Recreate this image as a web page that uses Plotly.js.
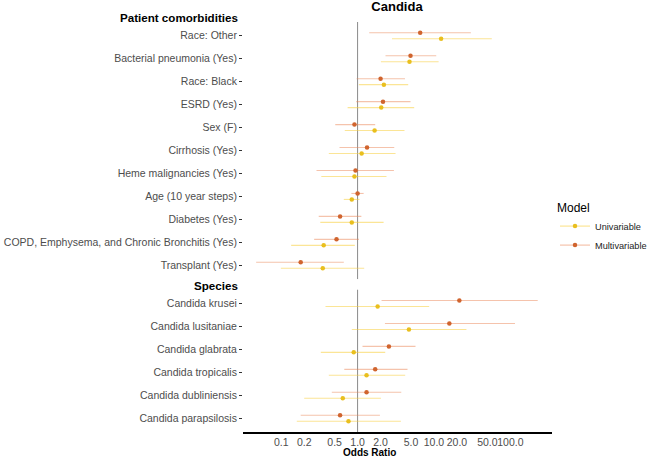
<!DOCTYPE html>
<html>
<head>
<meta charset="utf-8">
<script src="https://cdn.plot.ly/plotly-3.0.1.min.js"></script>
<style>
  html, body { margin: 0; padding: 0; background: #fff; }
  #chart { width: 650px; height: 459px; }
</style>
</head>
<body>
<div id="chart"></div>
<script>
// Patient comorbidities, listed top to bottom
const comorbLabels = [
  "Race: Other", "Bacterial pneumonia (Yes)", "Race: Black", "ESRD (Yes)", "Sex (F)",
  "Cirrhosis (Yes)", "Heme malignancies (Yes)", "Age (10 year steps)", "Diabetes (Yes)",
  "COPD, Emphysema, and Chronic Bronchitis (Yes)", "Transplant (Yes)"
];
const comorbMultiOR = [6.6, 4.93, 2.0, 2.15, 0.91, 1.33, 0.94, 1.0, 0.59, 0.53, 0.18];
const comorbMultiLo = [1.42, 2.32, 0.97, 0.96, 0.51, 0.58, 0.29, 0.83, 0.31, 0.27, 0.047];
const comorbMultiHi = [30.4, 10.7, 4.17, 4.93, 1.70, 3.02, 2.99, 1.2, 1.12, 1.04, 0.66];
const comorbUniOR = [12.4, 4.78, 2.21, 2.04, 1.67, 1.13, 0.91, 0.84, 0.84, 0.36, 0.35];
const comorbUniLo = [2.82, 2.02, 1.04, 0.74, 0.68, 0.42, 0.335, 0.66, 0.325, 0.135, 0.099];
const comorbUniHi = [57.1, 11.5, 4.6, 5.51, 4.11, 3.14, 2.39, 1.06, 2.19, 0.92, 1.22];

// Species, listed top to bottom
const speciesLabels = [
  "Candida krusei", "Candida lusitaniae", "Candida glabrata",
  "Candida tropicalis", "Candida dubliniensis", "Candida parapsilosis"
];
const speciesMultiOR = [21.5, 15.9, 2.57, 1.70, 1.31, 0.59];
const speciesMultiLo = [2.06, 2.28, 1.16, 0.67, 0.46, 0.18];
const speciesMultiHi = [228, 115, 5.73, 4.5, 3.73, 1.96];
const speciesUniOR = [1.83, 4.7, 0.89, 1.31, 0.64, 0.76];
const speciesUniLo = [0.38, 0.84, 0.33, 0.42, 0.20, 0.16];
const speciesUniHi = [8.65, 26.6, 2.30, 4.2, 2.02, 3.69];

const xTickVals = [0.1, 0.2, 0.5, 1, 2, 5, 10, 20, 50, 100];
const xTickText = ["0.1", "0.2", "0.5", "1.0", "2.0", "5.0", "10.0", "20.0", "50.0", "100.0"];

const FONT = "Liberation Sans, Arial, Helvetica, sans-serif";
const MULTI_DOT = "#d0642e";
const MULTI_CI = "rgba(236,135,90,0.5)";
const UNI_DOT = "#e9bf1e";
const UNI_CI = "rgba(247,207,64,0.55)";
const DODGE = 0.13;

// row position: first label sits at the top of its panel
function rows(labels, shift) {
  return labels.map((_, i) => labels.length - 1 - i + shift);
}

function series(or, lo, hi, labels, shift, yaxis, dot, ci, name) {
  return {
    type: "scatter", mode: "markers", name: name, showlegend: false,
    x: or, y: rows(labels, shift), yaxis: yaxis, xaxis: "x",
    marker: { color: dot, size: 4.5 },
    error_x: {
      type: "data", symmetric: false,
      array: hi.map((h, i) => h - or[i]),
      arrayminus: lo.map((l, i) => or[i] - l),
      color: ci, thickness: 1.1, width: 0
    },
    hoverinfo: "x+name"
  };
}

const traces = [
  series(comorbUniOR, comorbUniLo, comorbUniHi, comorbLabels, -DODGE, "y", UNI_DOT, UNI_CI, "Univariable"),
  series(comorbMultiOR, comorbMultiLo, comorbMultiHi, comorbLabels, DODGE, "y", MULTI_DOT, MULTI_CI, "Multivariable"),
  series(speciesUniOR, speciesUniLo, speciesUniHi, speciesLabels, -DODGE, "y2", UNI_DOT, UNI_CI, "Univariable"),
  series(speciesMultiOR, speciesMultiLo, speciesMultiHi, speciesLabels, DODGE, "y2", MULTI_DOT, MULTI_CI, "Multivariable"),
  // legend keys
  { type: "scatter", mode: "lines+markers", name: "Univariable", x: [null], y: [null],
    xaxis: "x", yaxis: "y2", line: { color: UNI_CI, width: 1.2 }, marker: { color: UNI_DOT, size: 4.5 } },
  { type: "scatter", mode: "lines+markers", name: "Multivariable", x: [null], y: [null],
    xaxis: "x", yaxis: "y2", line: { color: MULTI_CI, width: 1.2 }, marker: { color: MULTI_DOT, size: 4.5 } }
];

const yCommon = {
  showgrid: false, zeroline: false, showline: false,
  ticks: "outside", ticklen: 3, tickwidth: 1, tickcolor: "#333",
  tickfont: { family: FONT, size: 10.5, color: "#4d4d4d" },
  fixedrange: true, automargin: false
};

const layout = {
  width: 650, height: 459,
  margin: { l: 243, r: 98, t: 22, b: 27, pad: 0, autoexpand: false },
  paper_bgcolor: "#fff", plot_bgcolor: "#fff",
  font: { family: FONT, color: "#000" },
  title: {
    text: "<b>Candida</b>", font: { family: FONT, size: 13, color: "#000" },
    xref: "container", x: 397 / 650, xanchor: "center",
    yref: "container", y: 1 - 6.5 / 459, yanchor: "middle"
  },
  xaxis: {
    type: "log", range: [-1.5, 2.545], anchor: "y2",
    tickvals: xTickVals, ticktext: xTickText, ticks: "", tickangle: 0,
    showline: true, linecolor: "#000", linewidth: 1.5,
    showgrid: false, zeroline: false,
    tickfont: { family: FONT, size: 10.5, color: "#4d4d4d" },
    fixedrange: true, automargin: false
  },
  yaxis: Object.assign({}, yCommon, {
    domain: [0.373, 1], range: [-0.6, comorbLabels.length - 0.4],
    tickvals: rows(comorbLabels, 0), ticktext: comorbLabels, anchor: "x"
  }),
  yaxis2: Object.assign({}, yCommon, {
    domain: [0, 0.347], range: [-0.6, speciesLabels.length - 0.4],
    tickvals: rows(speciesLabels, 0), ticktext: speciesLabels, anchor: "x"
  }),
  shapes: [
    { type: "line", xref: "x", yref: "y domain", x0: 1, x1: 1, y0: 0, y1: 1,
      line: { color: "#8a8a8a", width: 1 }, layer: "below" },
    { type: "line", xref: "x", yref: "y2 domain", x0: 1, x1: 1, y0: 0, y1: 1,
      line: { color: "#8a8a8a", width: 1 }, layer: "below" }
  ],
  annotations: [
    { text: "<b>Patient comorbidities</b>", xref: "paper", yref: "paper",
      x: (240 - 243) / 309, y: (432 - 18) / 410, xanchor: "right", yanchor: "middle",
      showarrow: false, font: { family: FONT, size: 11.6, color: "#000" } },
    { text: "<b>Species</b>", xref: "paper", yref: "paper",
      x: (240 - 243) / 309, y: (432 - 285) / 410, xanchor: "right", yanchor: "middle",
      showarrow: false, font: { family: FONT, size: 11.6, color: "#000" } },
    { text: "<b>Odds Ratio</b>", xref: "paper", yref: "paper",
      x: (369 - 243) / 309, y: (432 - 452.5) / 410, xanchor: "center", yanchor: "middle",
      showarrow: false, font: { family: FONT, size: 10, color: "#000" } }
  ],
  legend: {
    x: (555 - 243) / 309, xanchor: "left", y: (432 - 196) / 410, yanchor: "top",
    bgcolor: "rgba(0,0,0,0)", tracegroupgap: 0, itemwidth: 30,
    font: { family: FONT, size: 9.2, color: "#222" },
    title: { text: "Model", font: { family: FONT, size: 12, color: "#000" } }
  },
  showlegend: true
};

Plotly.newPlot("chart", traces, layout, { displayModeBar: false, staticPlot: true });
</script>
</body>
</html>
